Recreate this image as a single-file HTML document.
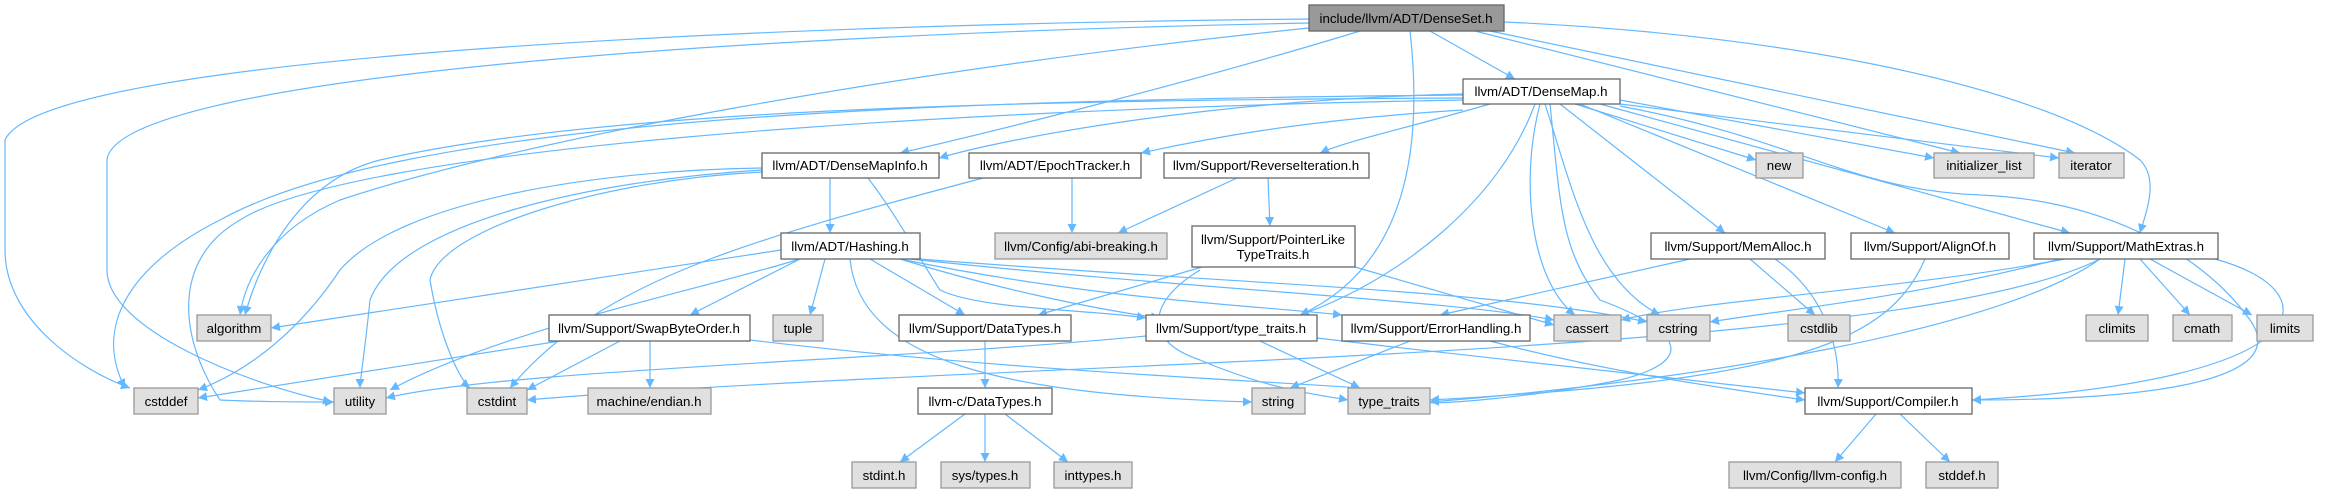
<!DOCTYPE html>
<html><head><meta charset="utf-8"><style>
html,body{margin:0;padding:0;background:#fff;}
svg{display:block;}
text{font-family:"Liberation Sans",Helvetica,sans-serif;font-size:13.3px;fill:#000;text-anchor:middle;}
.n{fill:#fff;stroke:#666;stroke-width:1.3;}
.g{fill:#e0e0e0;stroke:#999;stroke-width:1.3;}
.r{fill:#999;stroke:#666;stroke-width:1.3;}
path.e{fill:none;stroke:#63b8ff;stroke-width:1.2;}
</style></head><body>
<svg width="2326" height="493" viewBox="0 0 2326 493" xmlns="http://www.w3.org/2000/svg">
<defs><marker id="a" viewBox="0 0 10 10" refX="10" refY="5" markerWidth="9" markerHeight="9" markerUnits="userSpaceOnUse" orient="auto"><path d="M0,0 L10,5 L0,10 z" fill="#63b8ff"/></marker></defs>
<g marker-end="url(#a)">
<!-- DenseSet edges -->
<path class="e" d="M1309,19 C700,25 40,60 5,140 L5,250 C5,320 80,370 130,388"/>
<path class="e" d="M1309,23 C700,35 115,80 107,160 L107,270 C107,330 250,385 332,402"/>
<path class="e" d="M1360,31 C1200,80 1000,130 900,153"/>
<path class="e" d="M1430,31 L1515,79"/>
<path class="e" d="M1410,31 C1420,120 1420,260 1300,315"/>
<path class="e" d="M1309,28 C900,70 520,140 340,200 C270,230 245,280 240,315"/>
<path class="e" d="M1475,31 L1960,153"/>
<path class="e" d="M1490,31 L2075,153"/>
<path class="e" d="M1504,22 C1800,35 2050,90 2140,160 C2160,180 2145,215 2140,233"/>
<!-- DenseMap edges -->
<path class="e" d="M1463,94 C1200,100 1000,140 939,158"/>
<path class="e" d="M1463,110 C1300,120 1200,140 1141,153"/>
<path class="e" d="M1490,104 C1400,130 1350,140 1320,153"/>
<path class="e" d="M1463,98 C1000,100 600,110 380,160 C300,180 260,260 245,315"/>
<path class="e" d="M1463,95 C900,100 400,120 220,220 C140,260 90,320 125,388"/>
<path class="e" d="M1463,100 C900,110 350,150 240,220 C170,260 180,340 220,400 C260,402 310,402 334,402"/>
<path class="e" d="M1535,104 C1500,200 1400,280 1300,315"/>
<path class="e" d="M1540,104 C1520,180 1530,280 1575,315"/>
<path class="e" d="M1545,104 C1570,180 1590,280 1660,315"/>
<path class="e" d="M1550,104 C1560,200 1560,250 1600,300 C1680,330 1700,360 1620,380 C1520,400 1420,405 1430,402"/>
<path class="e" d="M1575,104 L1756,160"/>
<path class="e" d="M1620,100 L1934,158"/>
<path class="e" d="M1620,104 L2059,158"/>
<path class="e" d="M1560,104 L1725,233"/>
<path class="e" d="M1580,104 L1895,233"/>
<path class="e" d="M1600,104 L2070,233"/>
<path class="e" d="M1620,106 C1800,140 1850,190 1980,195 C2100,200 2200,250 2250,320 C2300,390 2100,400 1972,400"/>
<!-- DenseMapInfo edges -->
<path class="e" d="M830,178 L830,233"/>
<path class="e" d="M762,168 C600,170 400,200 340,270 C300,330 250,370 198,390"/>
<path class="e" d="M762,170 C600,180 400,220 370,300 C365,350 360,380 360,388"/>
<path class="e" d="M762,172 C600,180 440,230 430,280 C440,340 460,380 470,388"/>
<path class="e" d="M868,178 C900,220 920,260 940,290 C980,310 1100,310 1146,318"/>
<!-- EpochTracker -->
<path class="e" d="M1072,178 L1072,233"/>
<path class="e" d="M983,178 C750,240 600,280 510,388"/>
<!-- ReverseIteration -->
<path class="e" d="M1237,178 L1118,233"/>
<path class="e" d="M1268,178 L1270,226"/>
<!-- PointerLike -->
<path class="e" d="M1202,267 L1038,315"/>
<path class="e" d="M1200,270 C1150,300 1140,340 1200,360 C1270,390 1320,395 1348,400"/>
<path class="e" d="M1355,267 L1554,325"/>
<!-- Hashing edges -->
<path class="e" d="M781,250 L271,328"/>
<path class="e" d="M800,259 C700,290 500,330 390,390"/>
<path class="e" d="M825,259 L810,315"/>
<path class="e" d="M870,259 L965,315"/>
<path class="e" d="M900,259 C1000,290 1100,310 1160,318"/>
<path class="e" d="M900,259 C1100,300 1250,305 1342,315"/>
<path class="e" d="M910,259 C1200,290 1450,300 1554,320"/>
<path class="e" d="M920,259 C1250,285 1500,290 1647,322"/>
<path class="e" d="M850,259 C860,360 1000,395 1252,402"/>
<path class="e" d="M800,259 L690,315"/>
<!-- SwapByteOrder -->
<path class="e" d="M560,341 L198,398"/>
<path class="e" d="M620,341 L527,390"/>
<path class="e" d="M650,341 L650,388"/>
<path class="e" d="M750,340 C1000,370 1250,380 1360,388"/>
<!-- DataTypes chain -->
<path class="e" d="M985,341 L985,388"/>
<path class="e" d="M965,414 L900,462"/>
<path class="e" d="M985,414 L985,462"/>
<path class="e" d="M1005,414 L1068,462"/>
<!-- type_traits.h -->
<path class="e" d="M1146,336 C900,360 500,370 386,398"/>
<path class="e" d="M1260,341 L1360,388"/>
<path class="e" d="M1317,338 C1500,360 1700,380 1805,393"/>
<!-- ErrorHandling -->
<path class="e" d="M1410,341 L1290,388"/>
<path class="e" d="M1490,341 C1600,370 1700,385 1805,400"/>
<!-- MemAlloc -->
<path class="e" d="M1690,259 L1440,315"/>
<path class="e" d="M1750,259 L1815,315"/>
<path class="e" d="M1775,259 C1820,290 1840,340 1838,388"/>
<!-- AlignOf -->
<path class="e" d="M1925,259 C1890,340 1800,380 1430,400"/>
<!-- MathExtras -->
<path class="e" d="M2065,259 C1900,290 1700,300 1621,320"/>
<path class="e" d="M2060,259 C1900,300 1780,310 1710,322"/>
<path class="e" d="M2125,259 L2118,315"/>
<path class="e" d="M2140,259 L2190,315"/>
<path class="e" d="M2150,259 L2252,315"/>
<path class="e" d="M2215,259 C2330,290 2330,380 1972,400"/>
<path class="e" d="M2100,259 C2000,330 1700,380 1430,402"/>
<path class="e" d="M2100,259 C1900,360 1000,360 527,400"/>
<!-- Compiler -->
<path class="e" d="M1876,414 L1835,462"/>
<path class="e" d="M1900,414 L1950,462"/>
</g>
<!-- nodes -->
<rect class="r" x="1309" y="5" width="195" height="26"/><text x="1406" y="23">include/llvm/ADT/DenseSet.h</text>
<rect class="n" x="1463" y="79" width="157" height="25"/><text x="1541" y="96">llvm/ADT/DenseMap.h</text>
<rect class="n" x="762" y="153" width="177" height="25"/><text x="850" y="170">llvm/ADT/DenseMapInfo.h</text>
<rect class="n" x="969" y="153" width="172" height="25"/><text x="1055" y="170">llvm/ADT/EpochTracker.h</text>
<rect class="n" x="1164" y="153" width="205" height="25"/><text x="1266" y="170">llvm/Support/ReverseIteration.h</text>
<rect class="g" x="1756" y="153" width="47" height="25"/><text x="1779" y="170">new</text>
<rect class="g" x="1934" y="153" width="100" height="25"/><text x="1984" y="170">initializer_list</text>
<rect class="g" x="2059" y="153" width="65" height="25"/><text x="2091" y="170">iterator</text>
<rect class="n" x="781" y="233" width="139" height="26"/><text x="850" y="251">llvm/ADT/Hashing.h</text>
<rect class="g" x="995" y="233" width="172" height="26"/><text x="1081" y="251">llvm/Config/abi-breaking.h</text>
<rect class="n" x="1192" y="226" width="163" height="41"/><text x="1273" y="244">llvm/Support/PointerLike</text><text x="1273" y="259">TypeTraits.h</text>
<rect class="n" x="1651" y="233" width="174" height="26"/><text x="1738" y="251">llvm/Support/MemAlloc.h</text>
<rect class="n" x="1851" y="233" width="158" height="26"/><text x="1930" y="251">llvm/Support/AlignOf.h</text>
<rect class="n" x="2034" y="233" width="184" height="26"/><text x="2126" y="251">llvm/Support/MathExtras.h</text>
<rect class="g" x="197" y="315" width="74" height="26"/><text x="234" y="333">algorithm</text>
<rect class="n" x="549" y="315" width="201" height="26"/><text x="649" y="333">llvm/Support/SwapByteOrder.h</text>
<rect class="g" x="773" y="315" width="50" height="26"/><text x="798" y="333">tuple</text>
<rect class="n" x="899" y="315" width="172" height="26"/><text x="985" y="333">llvm/Support/DataTypes.h</text>
<rect class="n" x="1146" y="315" width="171" height="26"/><text x="1231" y="333">llvm/Support/type_traits.h</text>
<rect class="n" x="1342" y="315" width="188" height="26"/><text x="1436" y="333">llvm/Support/ErrorHandling.h</text>
<rect class="g" x="1554" y="315" width="67" height="26"/><text x="1587" y="333">cassert</text>
<rect class="g" x="1647" y="315" width="63" height="26"/><text x="1678" y="333">cstring</text>
<rect class="g" x="1788" y="315" width="62" height="26"/><text x="1819" y="333">cstdlib</text>
<rect class="g" x="2086" y="315" width="62" height="26"/><text x="2117" y="333">climits</text>
<rect class="g" x="2173" y="315" width="59" height="26"/><text x="2202" y="333">cmath</text>
<rect class="g" x="2257" y="315" width="56" height="26"/><text x="2285" y="333">limits</text>
<rect class="g" x="134" y="388" width="64" height="26"/><text x="166" y="406">cstddef</text>
<rect class="g" x="334" y="388" width="52" height="26"/><text x="360" y="406">utility</text>
<rect class="g" x="467" y="388" width="60" height="26"/><text x="497" y="406">cstdint</text>
<rect class="g" x="588" y="388" width="123" height="26"/><text x="649" y="406">machine/endian.h</text>
<rect class="n" x="918" y="388" width="134" height="26"/><text x="985" y="406">llvm-c/DataTypes.h</text>
<rect class="g" x="1252" y="388" width="53" height="26"/><text x="1278" y="406">string</text>
<rect class="g" x="1348" y="388" width="82" height="26"/><text x="1389" y="406">type_traits</text>
<rect class="n" x="1805" y="388" width="167" height="26"/><text x="1888" y="406">llvm/Support/Compiler.h</text>
<rect class="g" x="852" y="462" width="64" height="26"/><text x="884" y="480">stdint.h</text>
<rect class="g" x="941" y="462" width="89" height="26"/><text x="985" y="480">sys/types.h</text>
<rect class="g" x="1054" y="462" width="78" height="26"/><text x="1093" y="480">inttypes.h</text>
<rect class="g" x="1729" y="462" width="172" height="26"/><text x="1815" y="480">llvm/Config/llvm-config.h</text>
<rect class="g" x="1926" y="462" width="72" height="26"/><text x="1962" y="480">stddef.h</text>
</svg>
</body></html>
